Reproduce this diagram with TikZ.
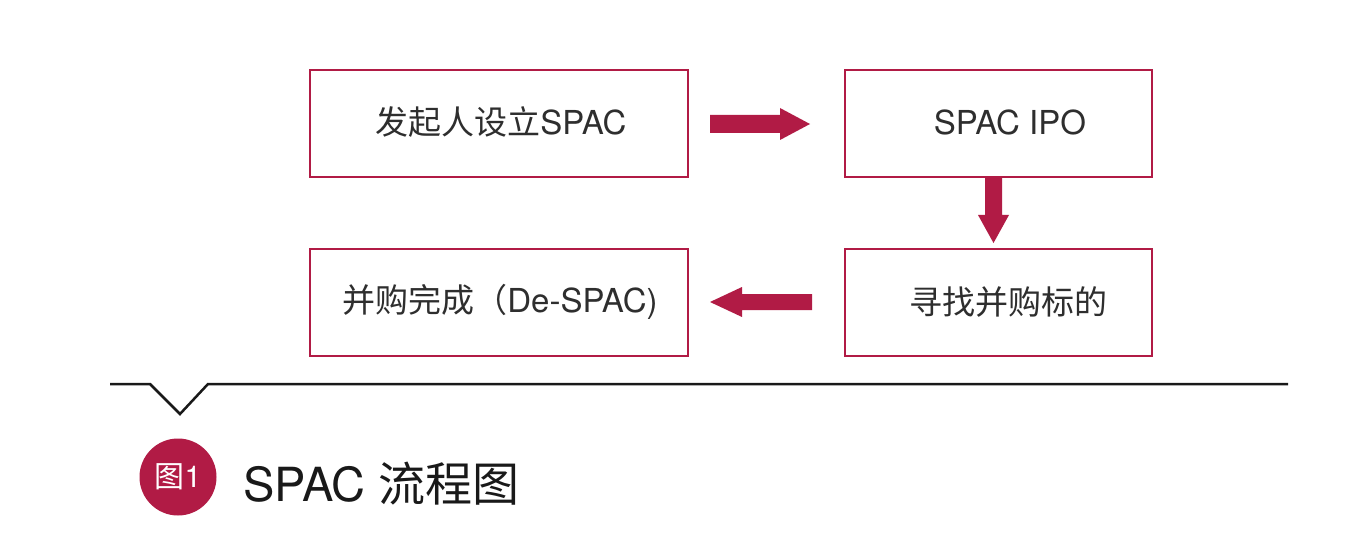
\documentclass[tikz,border=0pt]{standalone}
\usepackage{fontspec}
\setmainfont{TeX Gyre Heros}
\newfontfamily\cjk{Noto Sans CJK SC}
\definecolor{crim}{HTML}{B11B45}
\definecolor{txt}{HTML}{2E2E2E}
\tikzset{
  stepbox/.style={draw=crim, line width=2pt, minimum width=378pt, minimum height=107pt, inner sep=0pt},
  boxtext/.style={text=txt, font=\fontsize{33}{33}\selectfont},
  fatarrow/.style={fill=crim, draw=none},
}
\begin{document}
\begin{tikzpicture}[x=1pt,y=-1pt]
\useasboundingbox[fill=white] (0,0) rectangle (1346,540);
\node[stepbox, minimum width=378pt] (b1) at (499,123.5) {};
\node[stepbox, minimum width=307pt] (b2) at (998.5,123.5) {};
\node[stepbox, minimum width=378pt] (b3) at (499,302) {};
\node[stepbox, minimum width=307pt] (b4) at (998.5,302) {};
\node[boxtext] (t1) at (501,122) {{\cjk 发起人设立}SPAC};
\node[boxtext] (t2) at (1010,122) {SPAC IPO};
\node[boxtext] (t3) at (500,302) {{\cjk 并购完成（}De-SPAC)};
\node[boxtext] (t4) at (1008,302) {\cjk 寻找并购标的};
% right arrow
\fill[fatarrow] (710,115) -- (780,115) -- (780,108) -- (810,124) -- (780,140) -- (780,133) -- (710,133) -- cycle;
% down arrow
\fill[fatarrow] (985,177) -- (1002,177) -- (1002,215) -- (1009,215) -- (993.5,243) -- (978,215) -- (985,215) -- cycle;
% left arrow
\fill[fatarrow] (812,294) -- (742,294) -- (742,287) -- (710,302) -- (742,317) -- (742,310) -- (812,310) -- cycle;
% rule with notch
\draw[line width=2.5pt, black!90] (110,384) -- (150,384) -- (180,414) -- (208,384) -- (1288,384);
% caption
\node[circle, fill=crim, minimum size=77pt, inner sep=0pt, text=white, font=\fontsize{30}{30}\selectfont] (c) at (178,477) {{\cjk 图}1};
\node[anchor=west, text=black!90, font=\fontsize{47}{47}\selectfont, inner sep=0pt] (cap) at (243,484) {SPAC {\cjk 流程图}};
\end{tikzpicture}
\end{document}
